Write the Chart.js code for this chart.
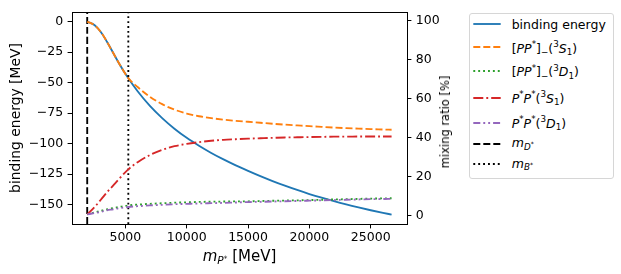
<!DOCTYPE html>
<html><head><meta charset="utf-8">
<script src="https://cdn.jsdelivr.net/npm/chart.js@4/dist/chart.umd.min.js"></script>
<style>
html,body{margin:0;padding:0;background:#fff;}
#wrap{position:relative;width:621px;height:274px;font-family:"DejaVu Sans",sans-serif;color:#000;overflow:hidden;}
#c{position:absolute;left:0;top:0;}
.t{position:absolute;white-space:nowrap;line-height:15px;font-size:12.5px;}
sup,sub{font-size:0.7em;line-height:0;position:relative;vertical-align:baseline;}
sup{top:-0.6em;} sub{top:0.3em;}
sub sup{top:-0.5em;}
#legend{position:absolute;left:469px;top:13px;width:145px;height:166px;border:1px solid #d6d6d6;border-radius:3px;box-sizing:border-box;background:#fff;}
.ls{position:absolute;left:473px;}
</style></head>
<body><div id="wrap">
<canvas id="c" width="621" height="274"></canvas>
<div id="legend"></div>
<div id="leg"></div>
<div class="t" id="xt" style="font-size:15px;line-height:18px;left:239.5px;top:247.3px;transform:translateX(-50%);"><i>m</i><sub><i>P</i><sup>*</sup></sub> [MeV]</div>
<div class="t" id="yt2" style="font-size:11.5px;line-height:14px;left:445px;top:121.5px;transform:translate(-50%,-50%) rotate(-90deg);">mixing ratio [%]</div>
</div>
<script>
// ---- data ----
const massMeV = [1890, 2500, 3000, 3500, 4000, 4500, 5240, 6000, 7000, 8000, 9000, 10000, 11000, 12000, 13000, 14000, 15000, 16000, 17000, 18000, 19000, 20000, 21000, 22000, 23000, 24000, 25000, 26000, 26700];
const bindingEnergy = [0, -3, -8.5, -16.5, -25.5, -34.5, -46.5, -57.1, -69.1, -79.1, -87.8, -95.3, -101.8, -107.7, -113.0, -117.9, -122.4, -126.7, -130.75, -134.55, -138.1, -141.4, -144.45, -147.3, -149.95, -152.4, -154.7, -156.85, -158.3];
const ratioPPminus3S1 = [99.5, 97.6, 94.2, 89.2, 83.5, 77.9, 70.5, 65.9, 60.9, 57.1, 54.3, 52.3, 50.9, 49.9, 49.15, 48.55, 48.05, 47.55, 47.05, 46.6, 46.2, 45.8, 45.45, 45.1, 44.8, 44.55, 44.3, 44.1, 43.95];
const ratioPPminus3D1 = [0.45, 1.5, 2.3, 3.1, 3.7, 4.3, 5.1, 5.5, 5.9, 6.2, 6.5, 6.7, 6.9, 7.0, 7.1, 7.15, 7.2, 7.35, 7.5, 7.6, 7.7, 7.85, 8.0, 8.15, 8.3, 8.45, 8.6, 8.7, 8.8];
const ratioPsPs3S1 = [0.45, 4.3, 8.0, 11.8, 15.3, 18.8, 23.6, 27.3, 31.0, 33.6, 35.5, 36.7, 37.6, 38.3, 38.8, 39.1, 39.4, 39.6, 39.8, 40.0, 40.1, 40.2, 40.3, 40.4, 40.4, 40.5, 40.5, 40.5, 40.5];
const ratioPsPs3D1 = [0.45, 1.2, 1.8, 2.6, 3.1, 3.7, 4.3, 4.7, 5.1, 5.4, 5.7, 5.9, 6.1, 6.25, 6.4, 6.6, 6.8, 6.95, 7.1, 7.25, 7.4, 7.55, 7.7, 7.85, 8.0, 8.15, 8.3, 8.4, 8.5];
const mDstar = 1890;
const mBstar = 5240;
const xTicks = [5000, 10000, 15000, 20000, 25000];
const leftTicks = [0, -25, -50, -75, -100, -125, -150];
const rightTicks = [0, 20, 40, 60, 80, 100];
const leftRange = [-166, 8];
const rightRange = [-4.45, 104.5];
const xRange = [650, 27956];

// ---- styles ----
const LW = 1.85;
const styles = [
  {label:'binding energy', color:'#1f77b4', dash:[]},
  {label:'PP- 3S1', color:'#ff7f0e', dash:[7,3]},
  {label:'PP- 3D1', color:'#2ca02c', dash:[1.9,3]},
  {label:'P*P* 3S1', color:'#d62728', dash:[10,3,1.9,3]},
  {label:'P*P* 3D1', color:'#9467bd', dash:[7,3,1.9,3,1.9,3]},
  {label:'mD*', color:'#000', dash:[7,3]},
  {label:'mB*', color:'#000', dash:[1.9,3]}
];
const pts = arr => massMeV.map((x,i)=>({x:x, y:arr[i]}));
const vline = m => [{x:m, y:leftRange[0]}, {x:m, y:leftRange[1]}];
function ds(i, data, axis, order){
  return {label:styles[i].label, data:data, yAxisID:axis, order:order,
    borderColor:styles[i].color, borderDash:styles[i].dash, borderWidth:LW,
    pointRadius:0, fill:false, cubicInterpolationMode:'monotone'};
}
const fmt = v => v < 0 ? '\u2212' + Math.abs(v) : String(v);
const tickFont = {family:'DejaVu Sans', size:12.5};
const frame = {id:'frame', afterDatasetsDraw(c){
  const a=c.chartArea, ctx=c.ctx; ctx.save(); ctx.strokeStyle='#000'; ctx.lineWidth=1;
  ctx.strokeRect(Math.round(a.left)+0.5, Math.round(a.top)+0.5, Math.round(a.right)-Math.round(a.left), Math.round(a.bottom)-Math.round(a.top));
  ctx.restore();
}};
Chart.defaults.font.family = 'DejaVu Sans';
new Chart(document.getElementById('c'), {
  type:'line',
  data:{datasets:[
    ds(0, pts(bindingEnergy), 'y', 8),
    ds(1, pts(ratioPPminus3S1), 'y2', 4),
    ds(2, pts(ratioPPminus3D1), 'y2', 3),
    ds(3, pts(ratioPsPs3S1), 'y2', 2),
    ds(4, pts(ratioPsPs3D1), 'y2', 1),
    ds(5, vline(mDstar), 'y', 6),
    ds(6, vline(mBstar), 'y', 5)
  ]},
  options:{
    responsive:false, animation:false, devicePixelRatio:1,
    layout:{padding:{left:8, right:169, top:7, bottom:0}},
    plugins:{legend:{display:false}, tooltip:{enabled:false}},
    scales:{
      x:{type:'linear', min:xRange[0], max:xRange[1],
        afterBuildTicks:s=>{s.ticks = xTicks.map(v=>({value:v}));},
        afterFit:s=>{s.height=50;},
        ticks:{font:tickFont, color:'#000', padding:1.6, maxRotation:0, callback:v=>String(v)},
        grid:{drawOnChartArea:false, color:'#000', lineWidth:1, tickLength:4.4}, border:{display:false}},
      y:{type:'linear', position:'left', min:leftRange[0], max:leftRange[1],
        afterBuildTicks:s=>{s.ticks = leftTicks.map(v=>({value:v}));},
        afterFit:s=>{s.width=64;},
        title:{display:true, text:'binding energy [MeV]', font:{family:'DejaVu Sans', size:13.9}, color:'#000', padding:0},
        ticks:{font:tickFont, color:'#000', padding:4.4, callback:fmt},
        grid:{drawOnChartArea:false, color:'#000', lineWidth:1, tickLength:4.4}, border:{display:false}},
      y2:{type:'linear', position:'right', min:rightRange[0], max:rightRange[1],
        afterBuildTicks:s=>{s.ticks = rightTicks.map(v=>({value:v}));},
        afterFit:s=>{s.width=45;},
        ticks:{font:tickFont, color:'#000', padding:4.4, callback:fmt},
        grid:{drawOnChartArea:false, color:'#000', lineWidth:1, tickLength:4.4}, border:{display:false}}
    }
  },
  plugins:[frame]
});

// ---- legend (HTML, mathtext-like) ----
const legendRows = [
  {y:24, base:28.3, html:'binding energy'},
  {y:47.3, base:52.4, html:'[<i>PP</i><sup>*</sup>]<sub>\u2212</sub>(<sup>3</sup><i>S</i><sub>1</sub>)'},
  {y:71, base:76, html:'[<i>PP</i><sup>*</sup>]<sub>\u2212</sub>(<sup>3</sup><i>D</i><sub>1</sub>)'},
  {y:97.7, base:102.3, html:'<i>P</i><sup>*</sup><i>P</i><sup>*</sup>(<sup>3</sup><i>S</i><sub>1</sub>)'},
  {y:122.7, base:127.3, html:'<i>P</i><sup>*</sup><i>P</i><sup>*</sup>(<sup>3</sup><i>D</i><sub>1</sub>)'},
  {y:144, base:146.7, html:'<i>m</i><sub><i>D</i><sup>*</sup></sub>'},
  {y:164.3, base:167.3, html:'<i>m</i><sub><i>B</i><sup>*</sup></sub>'}
];
const leg = document.getElementById('leg');
legendRows.forEach((r,i)=>{
  const st = styles[i];
  const svg = document.createElementNS('http://www.w3.org/2000/svg','svg');
  svg.setAttribute('width','30'); svg.setAttribute('height','6');
  svg.setAttribute('class','ls'); svg.style.top = (r.y-3)+'px';
  const ln = document.createElementNS('http://www.w3.org/2000/svg','line');
  ln.setAttribute('x1','0.3'); ln.setAttribute('x2','27.7'); ln.setAttribute('y1','3'); ln.setAttribute('y2','3');
  ln.setAttribute('stroke', st.color); ln.setAttribute('stroke-width', LW);
  if (st.dash.length) ln.setAttribute('stroke-dasharray', st.dash.join(' '));
  svg.appendChild(ln); leg.appendChild(svg);
  const t = document.createElement('div'); t.className='t';
  t.style.left='511.7px'; t.style.top=(r.base-11.8)+'px'; t.innerHTML=r.html;
  leg.appendChild(t);
});
</script>
</body></html>
